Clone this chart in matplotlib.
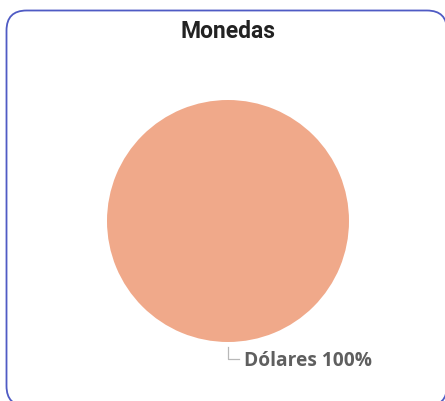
import matplotlib
matplotlib.use('Agg')
import matplotlib.pyplot as plt
from matplotlib.patches import FancyBboxPatch

categories = ['Dólares']
values = [100]
colors = ['#F0A98A']
title = 'Monedas'


def main():
    fig = plt.figure(figsize=(4.45, 4.01), dpi=100)
    W, H = 445, 401

    # card border (rounded, runs off the right and bottom edges)
    card = FancyBboxPatch((6.5 / W, -5 / H), (447 - 6.5) / W, (401 - 10.5 + 5) / H,
                          boxstyle='round,pad=0,rounding_size=0.045',
                          transform=fig.transFigure, facecolor='white',
                          edgecolor='#4F5BC4', linewidth=1.3, mutation_aspect=W / H,
                          zorder=-1)
    fig.patches.append(card)

    fig.text(228 / W, 1 - 32 / H, title, ha='center', va='center',
             fontsize=16.5, fontweight='bold', color='#222222', family='Roboto')

    ax = fig.add_axes([107 / W, 59 / H, 242 / W, 242 / H])
    ax.set_zorder(2)
    ax.pie(values, colors=colors, startangle=90, radius=1,
           wedgeprops=dict(linewidth=0))
    ax.set_xlim(-1, 1)
    ax.set_ylim(-1, 1)
    ax.set_aspect('equal')
    ax.axis('off')

    # leader line and label
    ax.plot([0, 0, 0.09], [-1.04, -1.14, -1.14], color='#B8B8B8', lw=0.9,
            clip_on=False)
    total = sum(values)
    label = f'{categories[0]} {values[0] / total * 100:.0f}%'
    ax.text(0.135, -1.155, label, ha='left', va='center', fontsize=13.8,
            fontweight='bold', color='#5F5F5F', family='Open Sans', clip_on=False)

    fig.savefig('out.png', dpi=100)


if __name__ == '__main__':
    main()
